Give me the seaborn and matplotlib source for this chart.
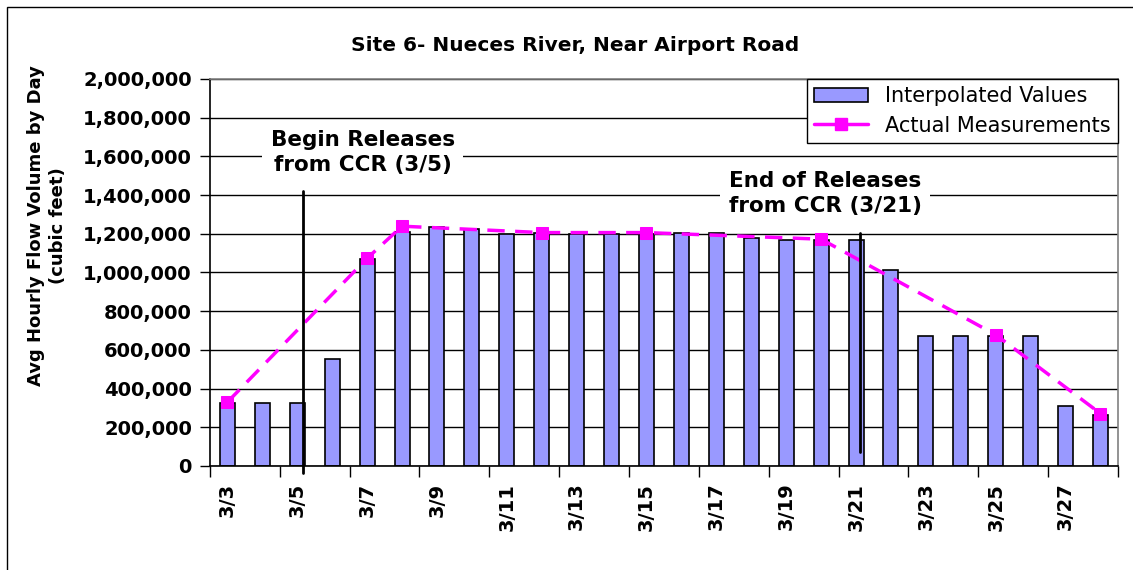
import matplotlib
matplotlib.use("Agg")
import matplotlib.pyplot as plt
import matplotlib.patches as mpatches
from matplotlib.lines import Line2D
import seaborn as sns
import pandas as pd

# daily dates (categories)
dates = ["3/3", "3/4", "3/5", "3/6", "3/7", "3/8", "3/9", "3/10", "3/11", "3/12",
         "3/13", "3/14", "3/15", "3/16", "3/17", "3/18", "3/19", "3/20", "3/21",
         "3/22", "3/23", "3/24", "3/25", "3/26", "3/27", "3/28"]

# interpolated daily values (bars)
interpolated = [325000, 325000, 325000, 555000, 1068000, 1208000, 1234000, 1225000,
                1201000, 1202000, 1200000, 1200000, 1200000, 1202000, 1202000,
                1177000, 1168000, 1170000, 1168000, 1011000, 670000, 670000,
                670000, 670000, 312000, 264000]

# actual measurements (line)
meas_dates = ["3/3", "3/7", "3/8", "3/12", "3/15", "3/20", "3/25", "3/28"]
meas_values = [330000, 1073000, 1239000, 1206000, 1206000, 1172000, 678000, 271000]

tick_labels = dates[0::2]

sns.set_style("white")
plt.rcParams['font.family'] = ['DejaVu Sans']
plt.rcParams['text.color'] = 'black'
plt.rcParams['xtick.color'] = 'black'
plt.rcParams['ytick.color'] = 'black'

df = pd.DataFrame({"date": dates, "value": interpolated})
meas_x = [dates.index(d) for d in meas_dates]

fig = plt.figure(figsize=(11.33, 5.70), dpi=100)
ax = fig.add_axes([0.1853, 0.1825, 0.8014, 0.679])

bar_color = "#9999FF"
line_color = "#FF00FF"

sns.barplot(data=df, x="date", y="value", color=bar_color, width=0.43,
            edgecolor="black", linewidth=1.2, saturation=1, ax=ax, zorder=2)
sns.lineplot(x=meas_x, y=meas_values, color=line_color, linewidth=2.5,
             linestyle=(0, (5, 3)), marker="s", markersize=9,
             markeredgecolor=line_color, ax=ax, zorder=4)

ax.set_xlim(-0.5, len(dates) - 0.5)
ax.set_ylim(0, 2000000)
ax.set_yticks(range(0, 2000001, 200000))
ax.set_yticklabels([f"{v:,}" for v in range(0, 2000001, 200000)],
                   fontsize=14, fontweight="bold")
ax.yaxis.grid(True, color="black", linewidth=1)
ax.set_axisbelow(True)

# ticks between categories, labels under every other day
ax.set_xticks([i - 0.5 for i in range(0, len(dates) + 1, 2)])
ax.set_xticklabels([])
ax.set_xticks(list(range(0, len(dates), 2)), minor=True)
ax.set_xticklabels(tick_labels, minor=True, rotation=90, fontsize=14,
                   fontweight="bold")
ax.tick_params(axis="x", which="major", direction="out", length=8, width=1,
               color="black", bottom=True)
ax.tick_params(axis="x", which="minor", length=0, pad=12)
ax.tick_params(axis="y", direction="out", length=7, width=1, color="black",
               left=True, pad=6)
ax.set_xlabel("")
ax.set_ylabel("")

for side in ["left", "bottom"]:
    ax.spines[side].set_color("black")
    ax.spines[side].set_linewidth(1.2)
for side in ["top", "right"]:
    ax.spines[side].set_color("#808080")
    ax.spines[side].set_linewidth(1.2)

# release markers
ax.plot([2.17, 2.17], [1421000, -38000], color="black", linewidth=2,
        clip_on=False, zorder=5)
ax.plot([18.12, 18.12], [1204000, 72000], color="black", linewidth=2,
        clip_on=False, zorder=5)
ax.text(3.88, 1620000, "Begin Releases\nfrom CCR (3/5)", ha="center",
        va="center", fontsize=15.5, fontweight="bold", linespacing=1.3,
        bbox=dict(facecolor="white", edgecolor="none", pad=6), zorder=6)
ax.text(17.12, 1410000, "End of Releases\nfrom CCR (3/21)", ha="center",
        va="center", fontsize=15.5, fontweight="bold", linespacing=1.3,
        bbox=dict(facecolor="white", edgecolor="none", pad=6), zorder=6)

handles = [mpatches.Patch(facecolor=bar_color, edgecolor="black", linewidth=1.2),
           Line2D([], [], color=line_color, linewidth=2.5, marker="s",
                  markersize=9, markeredgecolor=line_color)]
leg = ax.legend(handles, ["Interpolated Values", "Actual Measurements"],
                loc="upper right", fontsize=15, frameon=True, fancybox=False,
                edgecolor="black", framealpha=1, borderaxespad=0,
                handlelength=2.6, borderpad=0.35, labelspacing=0.45)
leg.get_frame().set_linewidth(1)
leg.set_zorder(10)

fig.text(0.5075, 0.921, "Site 6- Nueces River, Near Airport Road", ha="center",
         va="center", fontsize=14.5, fontweight="bold")
fig.text(0.0415, 0.605, "Avg Hourly Flow Volume by Day\n(cubic feet)",
         rotation=90, ha="center", va="center", fontsize=13,
         fontweight="bold", multialignment="center", linespacing=1.3)

# outer chart border (cropped at right and bottom)
fig.add_artist(mpatches.Rectangle((7 / 1133, -0.2), 2, 1.2 - 7 / 570,
                                  transform=fig.transFigure, fill=False,
                                  edgecolor="black", linewidth=1))

fig.savefig("out.png", dpi=100)
